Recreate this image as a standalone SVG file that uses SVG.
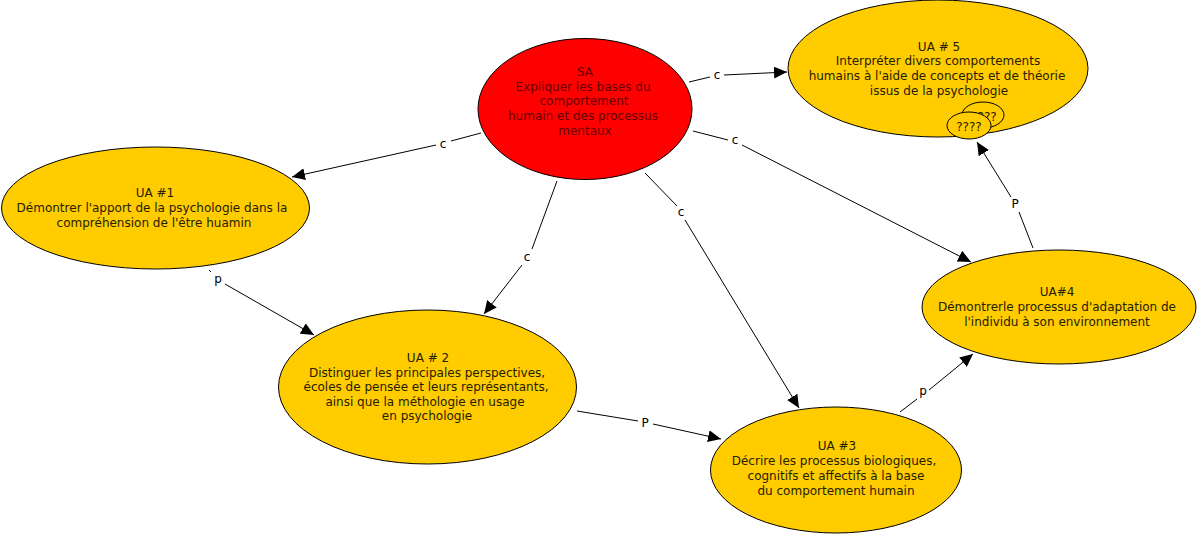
<svg xmlns="http://www.w3.org/2000/svg" width="1202" height="540" viewBox="0 0 1202 540">
<style>
text{font-family:"DejaVu Sans",Verdana,sans-serif;font-size:12px;fill:#000;text-anchor:middle}
.n{fill:#ffcc00;stroke:#000;stroke-width:1}
.r{fill:#ff0000;stroke:#000;stroke-width:1}
.l{fill:none;stroke:#000;stroke-width:1}
.t text{fill:#262000}
.s text{fill:#660000}
</style>
<defs><marker id="a" markerUnits="userSpaceOnUse" markerWidth="14" markerHeight="12" refX="13" refY="6" orient="auto"><path d="M0 0L13 6L0 12Z" fill="#000"/></marker></defs>
<rect width="1202" height="540" fill="#fff"/>
<g id="connectors">
<path class="l" d="M481 133L451 141"/><path class="l" d="M436 145L292 177" marker-end="url(#a)"/><text x="443" y="148">c</text>
<path class="l" d="M557 181L532 249"/><path class="l" d="M522 265L484 314" marker-end="url(#a)"/><text x="527" y="261">c</text>
<path class="l" d="M645 173L677 206"/><path class="l" d="M685 220L799 408" marker-end="url(#a)"/><text x="681" y="216">c</text>
<path class="l" d="M689 82L710 77"/><path class="l" d="M724 75L787 72" marker-end="url(#a)"/><text x="717" y="79">c</text>
<path class="l" d="M693 131L728 140"/><path class="l" d="M742 145L971 262" marker-end="url(#a)"/><text x="735" y="144">c</text>
<path class="l" d="M209 270L211 272"/><path class="l" d="M225 284L314 335" marker-end="url(#a)"/><text x="218" y="283">p</text>
<path class="l" d="M577 411L638 421"/><path class="l" d="M653 424L721 439" marker-end="url(#a)"/><text x="645" y="427">P</text>
<path class="l" d="M900 412L917 399"/><path class="l" d="M929 390L973 354" marker-end="url(#a)"/><text x="923" y="395">p</text>
<path class="l" d="M1033 248L1019 212"/><path class="l" d="M1011 197L977 142" marker-end="url(#a)"/><text x="1015" y="208">P</text>
</g>
<g id="sa" class="s"><ellipse class="r" cx="585" cy="109" rx="107" ry="70.500"/><text x="585" y="76">SA</text><text x="583" y="91">Expliquer les bases du</text><text x="584" y="105">comportement</text><text x="583" y="120">humain et des processus</text><text x="585" y="135">mentaux</text></g>
<g id="ua5" class="t"><ellipse class="n" cx="938" cy="68.500" rx="150" ry="68.500"/><text x="939" y="51">UA # 5</text><text x="938" y="65">Interpréter divers comportements</text><text x="937" y="80">humains à l'aide de concepts et de théorie</text><text x="939" y="95">issus de la psychologie</text></g>
<g id="note2" class="t"><ellipse class="n" cx="983" cy="115" rx="21" ry="13"/><text x="984" y="121">????</text></g>
<g id="note1" class="t"><ellipse class="n" cx="969" cy="125.500" rx="22" ry="13.500"/><text x="969" y="131">????</text></g>
<g id="ua1" class="t"><ellipse class="n" cx="155.500" cy="208" rx="154" ry="61"/><text x="155" y="197">UA #1</text><text x="152" y="212">Démontrer l'apport de la psychologie dans la</text><text x="154" y="227">compréhension de l'être huamin</text></g>
<g id="ua2" class="t"><ellipse class="n" cx="427.500" cy="387" rx="149" ry="77"/><text x="428" y="362">UA # 2</text><text x="427" y="377">Distinguer les principales perspectives,</text><text x="426" y="391">écoles de pensée et leurs représentants,</text><text x="425" y="406">ainsi que la méthologie en usage</text><text x="427" y="420">en psychologie</text></g>
<g id="ua3" class="t"><ellipse class="n" cx="836" cy="470" rx="125.500" ry="63"/><text x="837" y="450">UA #3</text><text x="834" y="465">Décrire les processus biologiques,</text><text x="836" y="480">cognitifs et affectifs à la base</text><text x="836" y="495">du comportement humain</text></g>
<g id="ua4" class="t"><ellipse class="n" cx="1059" cy="307" rx="137" ry="57"/><text x="1057" y="296">UA#4</text><text x="1057" y="311">Démontrerle processus d'adaptation de</text><text x="1057" y="326">l'individu à son environnement</text></g>
</svg>
